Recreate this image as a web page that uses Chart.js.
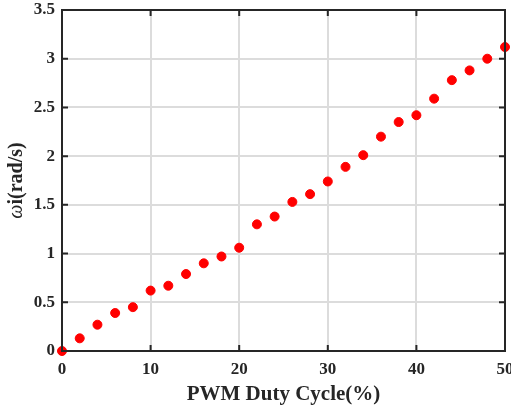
<!DOCTYPE html>
<html>
<head>
<meta charset="utf-8">
<script src="https://cdn.jsdelivr.net/npm/chart.js@4"></script>
<style>
  html, body { margin: 0; padding: 0; background: #fff; }
  #wrap { width: 511px; height: 407px; }
</style>
</head>
<body>
<div id="wrap"><canvas id="chart" width="511" height="407"></canvas></div>
<script>
// duty cycle (%) and measured angular speed
const duty = [0, 2, 4, 6, 8, 10, 12, 14, 16, 18, 20, 22, 24, 26, 28, 30, 32, 34, 36, 38, 40, 42, 44, 46, 48, 50];
const omega = [0, 0.13, 0.27, 0.39, 0.45, 0.62, 0.67, 0.79, 0.90, 0.97, 1.06, 1.30, 1.38, 1.53, 1.61, 1.74, 1.89, 2.01, 2.20, 2.35, 2.42, 2.59, 2.78, 2.88, 3.00, 3.12];
const xTicks = [0, 10, 20, 30, 40, 50];
const yTicks = [0, 0.5, 1, 1.5, 2, 2.5, 3, 3.5];

const points = duty.map((d, i) => ({ x: d, y: omega[i] }));
const serif = "'Liberation Serif', 'Times New Roman', serif";

// box frame, inward ticks and the y title with italic omega
const framePlugin = {
  id: "frame",
  afterDatasetsDraw(chart) {
    const { ctx, chartArea: a, scales } = chart;
    ctx.save();
    ctx.strokeStyle = "#262626";
    ctx.lineWidth = 2;
    ctx.lineCap = "square";
    ctx.strokeRect(a.left, a.top, a.right - a.left, a.bottom - a.top);
    const len = 5;
    ctx.beginPath();
    xTicks.forEach(v => {
      const px = scales.x.getPixelForValue(v);
      ctx.moveTo(px, a.bottom); ctx.lineTo(px, a.bottom - len);
      ctx.moveTo(px, a.top); ctx.lineTo(px, a.top + len);
    });
    yTicks.forEach(v => {
      const py = scales.y.getPixelForValue(v);
      ctx.moveTo(a.left, py); ctx.lineTo(a.left + len, py);
      ctx.moveTo(a.right, py); ctx.lineTo(a.right - len, py);
    });
    ctx.stroke();

    // y title
    ctx.translate(17, (a.top + a.bottom) / 2);
    ctx.rotate(-Math.PI / 2);
    ctx.fillStyle = "#262626";
    ctx.textBaseline = "middle";
    const p1 = "\u03C9";
    const p2 = "i(rad/s)";
    ctx.font = "italic 20px " + serif;
    const w1 = ctx.measureText(p1).width;
    ctx.font = "bold 20px " + serif;
    const w2 = ctx.measureText(p2).width;
    let x0 = -(w1 + w2) / 2;
    ctx.font = "italic 20px " + serif;
    ctx.fillText(p1, x0, 0);
    ctx.font = "bold 20px " + serif;
    ctx.fillText(p2, x0 + w1, 0);
    ctx.restore();
  }
};

new Chart(document.getElementById("chart"), {
  type: "scatter",
  data: {
    datasets: [{
      data: points,
      backgroundColor: "#ff0000",
      borderColor: "#ff0000",
      pointRadius: 4.5,
      pointHoverRadius: 4.5,
      clip: false
    }]
  },
  options: {
    responsive: false,
    animation: false,
    events: [],
    layout: { padding: { left: 0, right: 6, top: 10, bottom: 0 } },
    plugins: { legend: { display: false }, tooltip: { enabled: false } },
    scales: {
      x: {
        type: "linear",
        min: 0, max: 50,
        afterBuildTicks: s => { s.ticks = xTicks.map(v => ({ value: v })); },
        afterFit: s => { s.height = 56; s.paddingLeft = 0; s.paddingRight = 0; },
        grid: { color: "#dcdcdc", lineWidth: 2, drawTicks: false },
        border: { display: false },
        ticks: { color: "#262626", padding: 8, font: { family: serif, size: 17, weight: "bold" }, maxRotation: 0 },
        title: { display: true, text: "PWM Duty Cycle(%)", color: "#262626", padding: { top: 3, bottom: 0 }, font: { family: serif, size: 21, weight: "bold" } }
      },
      y: {
        type: "linear",
        min: 0, max: 3.5,
        afterBuildTicks: s => { s.ticks = yTicks.map(v => ({ value: v })); },
        afterFit: s => { s.width = 62; s.paddingTop = 0; s.paddingBottom = 0; },
        grid: { color: "#dcdcdc", lineWidth: 2, drawTicks: false },
        border: { display: false },
        ticks: {
          color: "#262626", padding: 7,
          font: { family: serif, size: 17, weight: "bold" },
          callback: v => String(v)
        }
      }
    }
  },
  plugins: [framePlugin]
});
</script>
</body>
</html>
